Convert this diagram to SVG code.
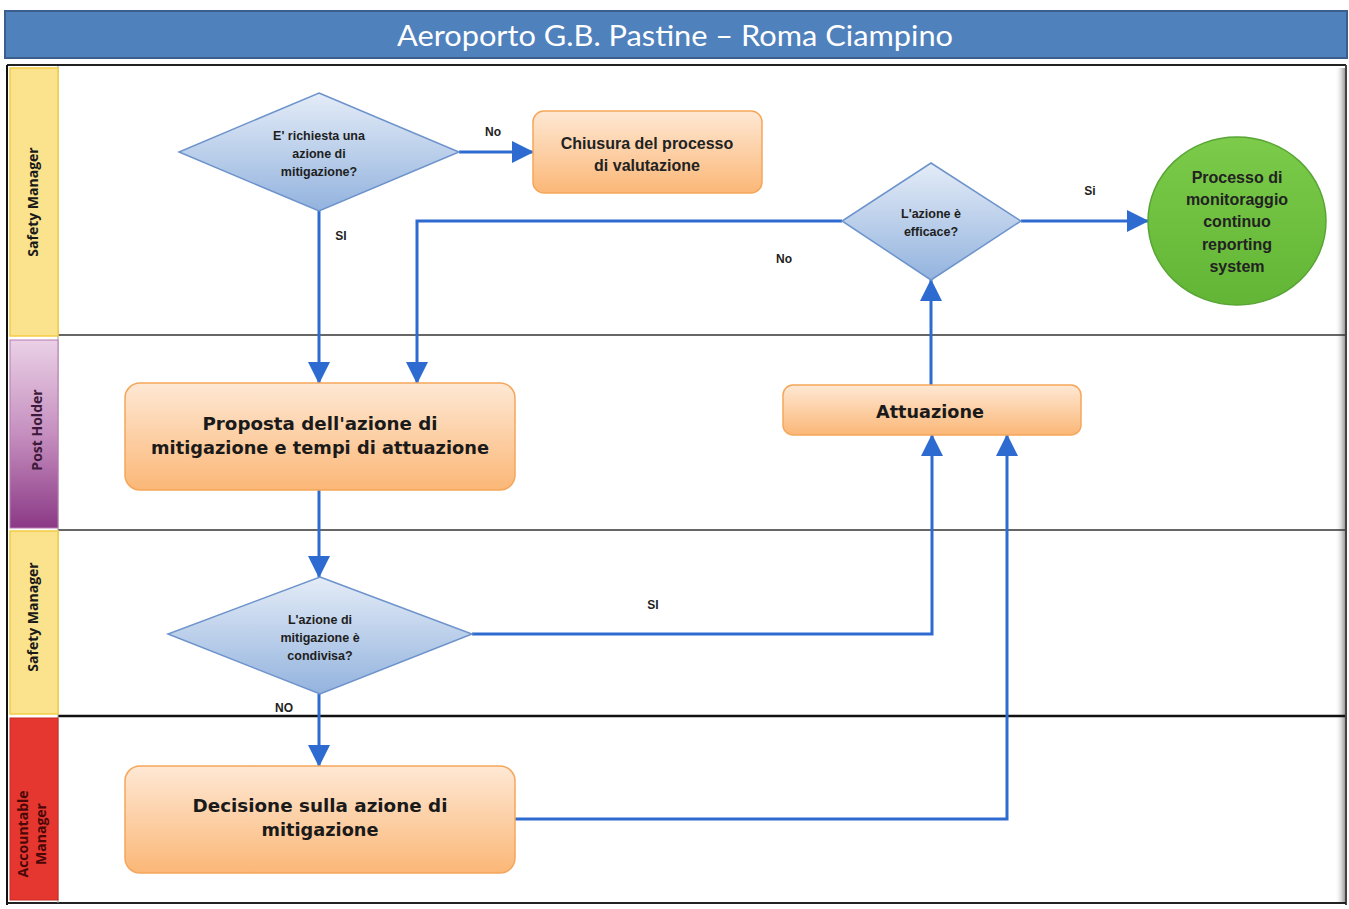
<svg xmlns="http://www.w3.org/2000/svg" width="1349" height="909" viewBox="0 0 1349 909">
<defs>
<linearGradient id="gOrange" x1="0" y1="0" x2="0" y2="1"><stop offset="0" stop-color="#fee8d4"/><stop offset="1" stop-color="#fbb777"/></linearGradient>
<linearGradient id="gBlue" x1="0" y1="0" x2="0" y2="1"><stop offset="0" stop-color="#e4ecf7"/><stop offset="1" stop-color="#93b3de"/></linearGradient>
<linearGradient id="gGreen" x1="0" y1="0" x2="0" y2="1"><stop offset="0" stop-color="#7ccb4a"/><stop offset="1" stop-color="#62b535"/></linearGradient>
<linearGradient id="gPurple" x1="0" y1="0" x2="0" y2="1"><stop offset="0" stop-color="#ead0e6"/><stop offset="0.5" stop-color="#c58fbf"/><stop offset="1" stop-color="#8b3985"/></linearGradient>
<linearGradient id="gShadow" x1="0" y1="0" x2="1" y2="0"><stop offset="0" stop-color="#ffffff" stop-opacity="0"/><stop offset="1" stop-color="#9a9a9a"/></linearGradient>
<marker id="arr" markerUnits="userSpaceOnUse" markerWidth="22" markerHeight="22" viewBox="0 0 22 22" refX="21" refY="11" orient="auto"><path d="M0,0 L22,11 L0,22 Z" fill="#2e6bd0"/></marker>
</defs>
<style>
.lbl{font-family:"Liberation Sans",Arial,sans-serif;font-weight:bold;font-size:12px;fill:#222;text-anchor:middle}
.dt{font-family:"Liberation Sans",Arial,sans-serif;font-weight:bold;font-size:12.5px;fill:#1e1e1e;text-anchor:middle}
.bt{font-family:"DejaVu Sans",Verdana,sans-serif;font-weight:bold;font-size:17px;fill:#1a1a1a;text-anchor:middle}
.bn{font-family:"Liberation Sans",Arial,sans-serif;font-weight:bold;font-size:16px;fill:#222;text-anchor:middle}
.lane{font-family:"Open Sans","Lato",sans-serif;font-weight:bold;font-size:14px;text-anchor:middle}
.box{fill:url(#gOrange);stroke:#f5a65a;stroke-width:1.5}
.dia{fill:url(#gBlue);stroke:#6d93cc;stroke-width:1.5}
.con{fill:none;stroke:#2e6bd0;stroke-width:3}
.div{stroke:#333;stroke-width:1.5}
</style>
<rect width="1349" height="909" fill="#ffffff"/>
<g id="title">
<rect x="5" y="11" width="1342" height="47" fill="#4f81bd" stroke="#3b5e8c" stroke-width="2"/>
<text x="675" y="46" font-family="Lato,'Open Sans',sans-serif" font-size="29" fill="#ffffff" text-anchor="middle" textLength="556" lengthAdjust="spacingAndGlyphs">Aeroporto G.B. Pastine – Roma Ciampino</text>
</g>
<g id="frame">
<rect x="1335" y="68" width="10" height="834" fill="url(#gShadow)"/>
<line x1="7" y1="65" x2="1346" y2="65" stroke="#222" stroke-width="2"/>
<line x1="7" y1="65" x2="7" y2="905" stroke="#111" stroke-width="2"/>
<line x1="1346" y1="65" x2="1346" y2="905" stroke="#444" stroke-width="2"/>
<line x1="7" y1="903" x2="1346" y2="903" stroke="#222" stroke-width="2"/>
<line class="div" x1="58" y1="335" x2="1345" y2="335"/>
<line class="div" x1="58" y1="530" x2="1345" y2="530"/>
<line x1="58" y1="716" x2="1345" y2="716" stroke="#111" stroke-width="2.5"/>
<line x1="58" y1="66" x2="58" y2="903" stroke="#999" stroke-width="1"/>
</g>
<g id="lane-safety-1">
<rect x="10" y="68" width="48" height="268" fill="#fbe28c" stroke="#f3cd45" stroke-width="1.5"/>
<text class="lane" transform="translate(38,202) rotate(-90)" fill="#1a1a1a">Safety Manager</text>
</g>
<g id="lane-post-holder">
<rect x="10" y="340" width="48" height="188" fill="url(#gPurple)" stroke="#b67aae" stroke-width="1"/>
<text class="lane" transform="translate(42,430) rotate(-90)" fill="#3d1a3a">Post Holder</text>
</g>
<g id="lane-safety-2">
<rect x="10" y="531" width="48" height="183" fill="#fbe28c" stroke="#f3cd45" stroke-width="1.5"/>
<text class="lane" transform="translate(38,617) rotate(-90)" fill="#1a1a1a">Safety Manager</text>
</g>
<g id="lane-accountable">
<rect x="10" y="718" width="48" height="182" fill="#e5372f" stroke="#c62a24" stroke-width="1"/>
<text class="lane" transform="translate(28,834) rotate(-90)" fill="#4a0808">Accountable</text>
<text class="lane" transform="translate(46,834) rotate(-90)" fill="#4a0808">Manager</text>
</g>
<g id="connectors">
<path class="con" d="M459,152 L533,152" marker-end="url(#arr)"/>
<path class="con" d="M319,211 L319,383" marker-end="url(#arr)"/>
<path class="con" d="M842,221 L417,221 L417,383" marker-end="url(#arr)"/>
<path class="con" d="M1021,221 L1148,221" marker-end="url(#arr)"/>
<path class="con" d="M931,385 L931,280" marker-end="url(#arr)"/>
<path class="con" d="M319,490 L319,577" marker-end="url(#arr)"/>
<path class="con" d="M472,634 L932,634 L932,435" marker-end="url(#arr)"/>
<path class="con" d="M319,694 L319,766" marker-end="url(#arr)"/>
<path class="con" d="M515,819 L1007,819 L1007,435" marker-end="url(#arr)"/>
<text class="lbl" x="493" y="136">No</text>
<text class="lbl" x="341" y="240">SI</text>
<text class="lbl" x="1090" y="195">Si</text>
<text class="lbl" x="784" y="263">No</text>
<text class="lbl" x="653" y="609">SI</text>
<text class="lbl" x="284" y="712">NO</text>
</g>
<g id="d1">
<polygon class="dia" points="319,93 459,152 319,211 179,152"/>
<text class="dt" x="319" y="140">E' richiesta una</text>
<text class="dt" x="319" y="158">azione di</text>
<text class="dt" x="319" y="176">mitigazione?</text>
</g>
<g id="chiusura">
<rect class="box" x="533" y="111" width="229" height="82" rx="11"/>
<text class="bn" x="647" y="149">Chiusura del processo</text>
<text class="bn" x="647" y="171">di valutazione</text>
</g>
<g id="d2">
<polygon class="dia" points="931,163 1021,221 931,280 842,221"/>
<text class="dt" x="931" y="218">L'azione è</text>
<text class="dt" x="931" y="236">efficace?</text>
</g>
<g id="monitoraggio">
<ellipse cx="1237" cy="221" rx="89" ry="84" fill="url(#gGreen)" stroke="#58a535" stroke-width="1.5"/>
<text class="bn" x="1237" y="183" fill="#1c2a12">Processo di</text>
<text class="bn" x="1237" y="205" fill="#1c2a12">monitoraggio</text>
<text class="bn" x="1237" y="227" fill="#1c2a12">continuo</text>
<text class="bn" x="1237" y="250" fill="#1c2a12">reporting</text>
<text class="bn" x="1237" y="272" fill="#1c2a12">system</text>
</g>
<g id="proposta">
<rect class="box" x="125" y="383" width="390" height="107" rx="15"/>
<text class="bt" x="320" y="430" textLength="235" lengthAdjust="spacingAndGlyphs">Proposta dell'azione di</text>
<text class="bt" x="320" y="454" textLength="338" lengthAdjust="spacingAndGlyphs">mitigazione e tempi di attuazione</text>
</g>
<g id="attuazione">
<rect class="box" x="783" y="385" width="298" height="50" rx="10"/>
<text class="bt" x="930" y="418" textLength="108" lengthAdjust="spacingAndGlyphs">Attuazione</text>
</g>
<g id="d3">
<polygon class="dia" points="320,577 472,634 320,694 168,634"/>
<text class="dt" x="320" y="624">L'azione di</text>
<text class="dt" x="320" y="642">mitigazione è</text>
<text class="dt" x="320" y="660">condivisa?</text>
</g>
<g id="decisione">
<rect class="box" x="125" y="766" width="390" height="107" rx="15"/>
<text class="bt" x="320" y="812" textLength="255" lengthAdjust="spacingAndGlyphs">Decisione sulla azione di</text>
<text class="bt" x="320" y="836" textLength="117" lengthAdjust="spacingAndGlyphs">mitigazione</text>
</g>
</svg>
